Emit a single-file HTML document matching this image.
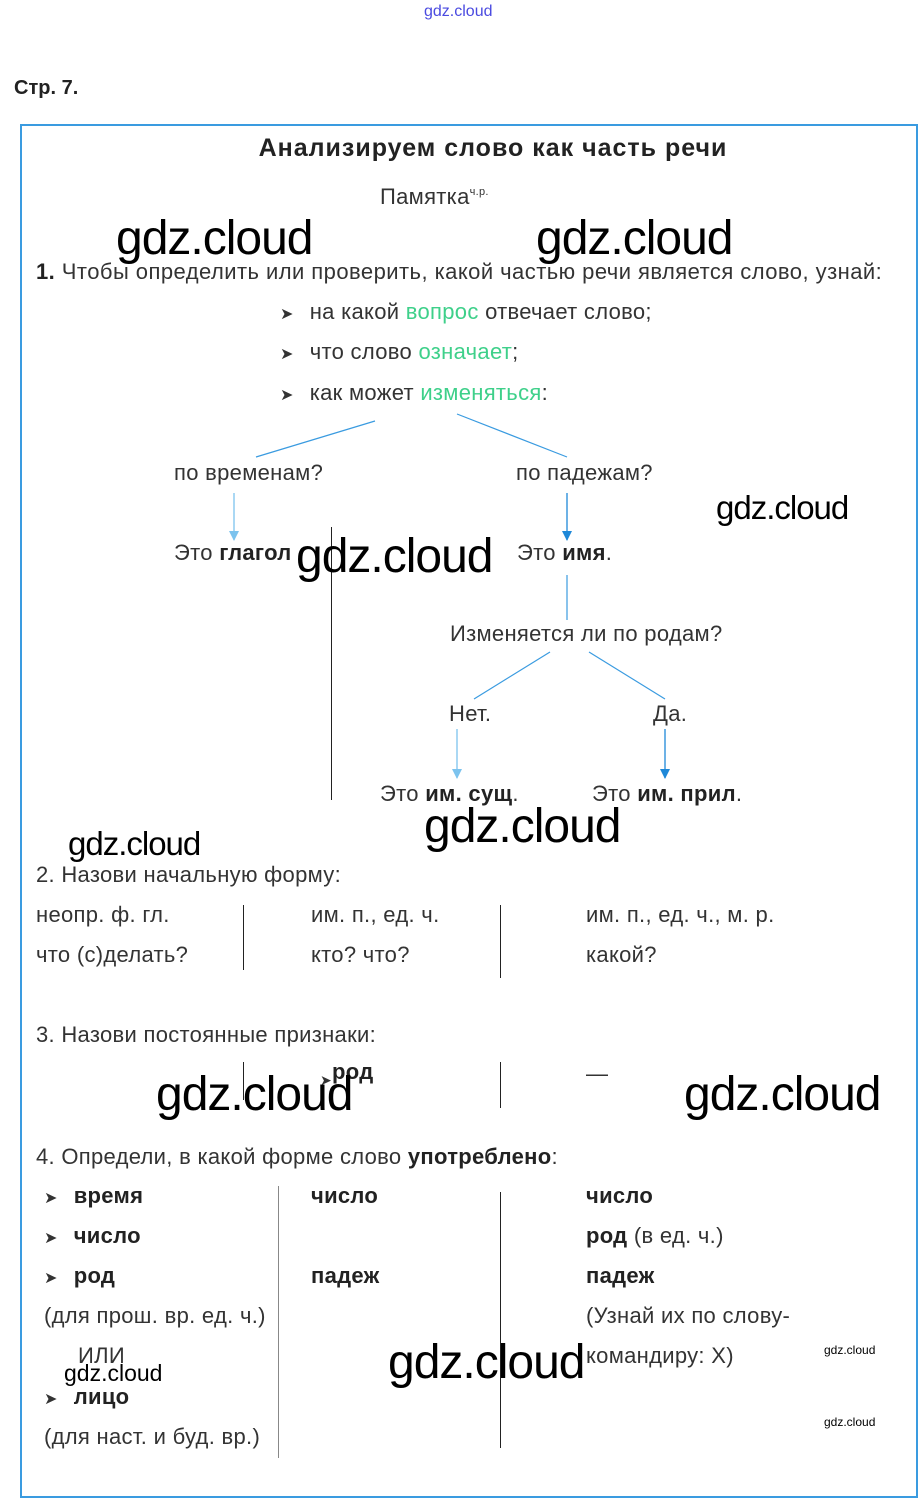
<!DOCTYPE html>
<html><head><meta charset="utf-8"><style>
body{margin:0;width:924px;height:1512px;background:#fff;position:relative;overflow:hidden;font-family:"Liberation Sans",sans-serif;}
.t{position:absolute;font-size:22px;line-height:24px;color:#333;white-space:nowrap;letter-spacing:0.3px}
.g{color:#3ed08a}
.w{position:absolute;font-family:"Liberation Sans",sans-serif;font-size:48px;line-height:50px;color:#000;white-space:nowrap;letter-spacing:-1px}
.ws{position:absolute;font-size:12px;color:#000;}
.vl{position:absolute;width:1px;background:#222;}
.ar{font-size:16px;margin-right:16px;}
b{color:#222}
</style></head><body>
<div class="t" style="left:424px;top:0px;font-size:16px;color:#4a4ae0;letter-spacing:0">gdz.cloud</div>
<div class="t" style="left:14px;top:76px;font-weight:bold;color:#222;font-size:20px;letter-spacing:0">Стр. 7.</div>
<div style="position:absolute;left:20px;top:124px;width:894px;height:1370px;border:2px solid #3a9be0;"></div>
<div class="t" style="left:0;width:986px;text-align:center;top:136px;font-size:25px;letter-spacing:1px;font-weight:bold;color:#222">Анализируем слово как часть речи</div>
<div class="t" style="left:380px;top:180px">Памятка<sup style="font-size:11px;vertical-align:9px">ч.р.</sup></div>
<div class="t" style="left:36px;top:260px;letter-spacing:0.45px"><b>1.</b> Чтобы определить или проверить, какой частью речи является слово, узнай:</div>
<div class="t" style="left:280px;top:300px"><span class="ar">➤</span>на какой <span class="g">вопрос</span> отвечает слово;</div>
<div class="t" style="left:280px;top:340px"><span class="ar">➤</span>что слово <span class="g">означает</span>;</div>
<div class="t" style="left:280px;top:381px"><span class="ar">➤</span>как может <span class="g">изменяться</span>:</div>
<svg style="position:absolute;left:0;top:0" width="924" height="1512">
<defs><marker id="a" markerWidth="10" markerHeight="10" refX="9" refY="5" orient="auto" markerUnits="userSpaceOnUse"><path d="M0,0 L10,5 L0,10z" fill="#7cc3ee"/></marker>
<marker id="b" markerWidth="10" markerHeight="10" refX="9" refY="5" orient="auto" markerUnits="userSpaceOnUse"><path d="M0,0 L10,5 L0,10z" fill="#1e88d8"/></marker></defs>
<g stroke="#3a9be0" stroke-width="1.2">
<line x1="375" y1="421" x2="256" y2="457"/>
<line x1="457" y1="414" x2="567" y2="457"/>
<line x1="567" y1="575" x2="567" y2="620"/>
<line x1="550" y1="652" x2="474" y2="699"/>
<line x1="589" y1="652" x2="665" y2="699"/>
</g>
<line x1="234" y1="493" x2="234" y2="540" stroke="#7cc3ee" stroke-width="1.3" marker-end="url(#a)"/>
<line x1="567" y1="493" x2="567" y2="540" stroke="#1e88d8" stroke-width="1.3" marker-end="url(#b)"/>
<line x1="457" y1="729" x2="457" y2="778" stroke="#7cc3ee" stroke-width="1.3" marker-end="url(#a)"/>
<line x1="665" y1="729" x2="665" y2="778" stroke="#1e88d8" stroke-width="1.3" marker-end="url(#b)"/>
</svg>
<div class="t" style="left:174px;top:461px">по временам?</div>
<div class="t" style="left:516px;top:461px">по падежам?</div>
<div class="t" style="left:174px;top:541px">Это <b>глагол</b></div>
<div class="t" style="left:517px;top:541px">Это <b>имя</b>.</div>
<div class="vl" style="left:331px;top:527px;height:273px"></div>
<div class="t" style="left:450px;top:622px">Изменяется ли по родам?</div>
<div class="t" style="left:449px;top:702px">Нет.</div>
<div class="t" style="left:653px;top:702px">Да.</div>
<div class="t" style="left:380px;top:782px">Это <b>им. сущ</b>.</div>
<div class="t" style="left:592px;top:782px">Это <b>им. прил</b>.</div>
<div class="t" style="left:36px;top:863px">2. Назови начальную форму:</div>
<div class="t" style="left:36px;top:903px">неопр. ф. гл.</div>
<div class="t" style="left:36px;top:943px">что (с)делать?</div>
<div class="t" style="left:311px;top:903px">им. п., ед. ч.</div>
<div class="t" style="left:311px;top:943px">кто? что?</div>
<div class="t" style="left:586px;top:903px">им. п., ед. ч., м. р.</div>
<div class="t" style="left:586px;top:943px">какой?</div>
<div class="vl" style="left:243px;top:905px;height:65px"></div>
<div class="vl" style="left:500px;top:905px;height:73px"></div>
<div class="t" style="left:36px;top:1023px">3. Назови постоянные признаки:</div>
<div class="vl" style="left:243px;top:1062px;height:38px"></div>
<div class="vl" style="left:500px;top:1062px;height:46px"></div>
<div class="t" style="left:320px;top:1066px"><span style="font-size:14px">➤</span><b style="position:relative;top:-6px">род</b></div>
<div class="t" style="left:586px;top:1062px">—</div>
<div class="t" style="left:36px;top:1145px">4. Определи, в какой форме слово <b>употреблено</b>:</div>
<div class="vl" style="left:278px;top:1186px;height:272px;background:#888"></div>
<div class="vl" style="left:500px;top:1192px;height:256px"></div>
<div class="t" style="left:44px;top:1184px"><span class="ar">➤</span><b>время</b></div>
<div class="t" style="left:44px;top:1224px"><span class="ar">➤</span><b>число</b></div>
<div class="t" style="left:44px;top:1264px"><span class="ar">➤</span><b>род</b></div>
<div class="t" style="left:44px;top:1304px">(для прош. вр. ед. ч.)</div>
<div class="t" style="left:78px;top:1344px">ИЛИ</div>
<div class="t" style="left:44px;top:1385px"><span class="ar">➤</span><b>лицо</b></div>
<div class="t" style="left:44px;top:1425px">(для наст. и буд. вр.)</div>
<div class="t" style="left:311px;top:1184px"><b>число</b></div>
<div class="t" style="left:311px;top:1264px"><b>падеж</b></div>
<div class="t" style="left:586px;top:1184px"><b>число</b></div>
<div class="t" style="left:586px;top:1224px"><b>род</b> (в ед. ч.)</div>
<div class="t" style="left:586px;top:1264px"><b>падеж</b></div>
<div class="t" style="left:586px;top:1304px">(Узнай их по слову-</div>
<div class="t" style="left:586px;top:1344px">командиру: Х)</div>
<div class="w" style="left:116px;top:214px">gdz.cloud</div>
<div class="w" style="left:536px;top:214px">gdz.cloud</div>
<div class="w" style="left:716px;top:483px;font-size:33px">gdz.cloud</div>
<div class="w" style="left:296px;top:532px">gdz.cloud</div>
<div class="w" style="left:68px;top:819px;font-size:33px">gdz.cloud</div>
<div class="w" style="left:424px;top:802px">gdz.cloud</div>
<div class="w" style="left:156px;top:1070px">gdz.cloud</div>
<div class="w" style="left:684px;top:1070px">gdz.cloud</div>
<div class="w" style="left:64px;top:1360px;font-size:23px;line-height:26px;letter-spacing:0">gdz.cloud</div>
<div class="w" style="left:388px;top:1338px">gdz.cloud</div>
<div class="ws" style="left:824px;top:1343px">gdz.cloud</div>
<div class="ws" style="left:824px;top:1415px">gdz.cloud</div>
</body></html>
